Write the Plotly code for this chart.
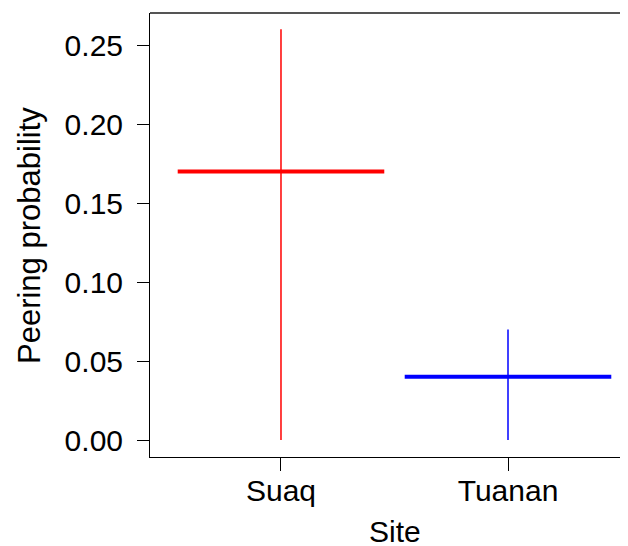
import plotly.graph_objects as go

sites = ["Suaq", "Tuanan"]
means = [0.17, 0.04]
lower = [0.0, 0.0]
upper = [0.26, 0.07]
colors = ["#ff0000", "#0000ff"]
y_ticks = [0.00, 0.05, 0.10, 0.15, 0.20, 0.25]
y_ticklabels = ["0.00", "0.05", "0.10", "0.15", "0.20", "0.25"]

half_width = 0.455
font = "Liberation Sans, Arial, Helvetica, sans-serif"

fig = go.Figure()
for i, (s, m, lo, hi, c) in enumerate(zip(sites, means, lower, upper, colors)):
    xpos = i + 1
    fig.add_trace(go.Scatter(x=[xpos, xpos], y=[lo, hi], mode="lines",
                             line=dict(color=c, width=1.5), showlegend=False, hoverinfo="skip"))
    fig.add_trace(go.Scatter(x=[xpos - half_width, xpos + half_width], y=[m, m], mode="lines",
                             line=dict(color=c, width=4), showlegend=False, hoverinfo="skip"))

W, H = 620, 538
L, T, B = 142, 5, 89
pw, ph = W - L, H - T - B

fig.update_layout(
    width=W, height=H,
    margin=dict(l=L, r=0, t=T, b=B, pad=0),
    paper_bgcolor="white", plot_bgcolor="white",
    font=dict(family=font, size=30, color="black"),
    xaxis=dict(range=[0.423, 2.5286], tickvals=[1, 2], ticktext=sites,
               showgrid=False, zeroline=False, showline=True, linecolor="black", linewidth=1,
               ticks="outside", ticklen=13, tickcolor="black", tickwidth=1,
               ticklabelstandoff=-6,
               tickfont=dict(size=30, family=font, color="black")),
    yaxis=dict(range=[-0.01076, 0.2703], tickvals=y_ticks, ticktext=y_ticklabels,
               showgrid=False, zeroline=False, showline=True, linecolor="black", linewidth=1,
               ticks="outside", ticklen=12, tickcolor="black", tickwidth=1,
               ticklabelstandoff=8,
               tickfont=dict(size=30, family=font, color="black")),
    shapes=[dict(type="line", xref="paper", yref="paper", x0=0, x1=1, y0=1, y1=1,
                 line=dict(color="#555555", width=2))],
    annotations=[
        dict(text="Peering probability", xref="paper", yref="paper", x=(21 - L) / pw, y=0.5,
             xanchor="center", yanchor="middle", textangle=-90, showarrow=False,
             font=dict(size=31, family=font, color="black")),
        dict(text="Site", xref="paper", yref="paper", x=(387 - L) / pw, y=-(523 - (T + ph)) / ph,
             xanchor="center", yanchor="middle", showarrow=False,
             font=dict(size=30, family=font, color="black")),
    ],
)

fig.write_html("out.html")
